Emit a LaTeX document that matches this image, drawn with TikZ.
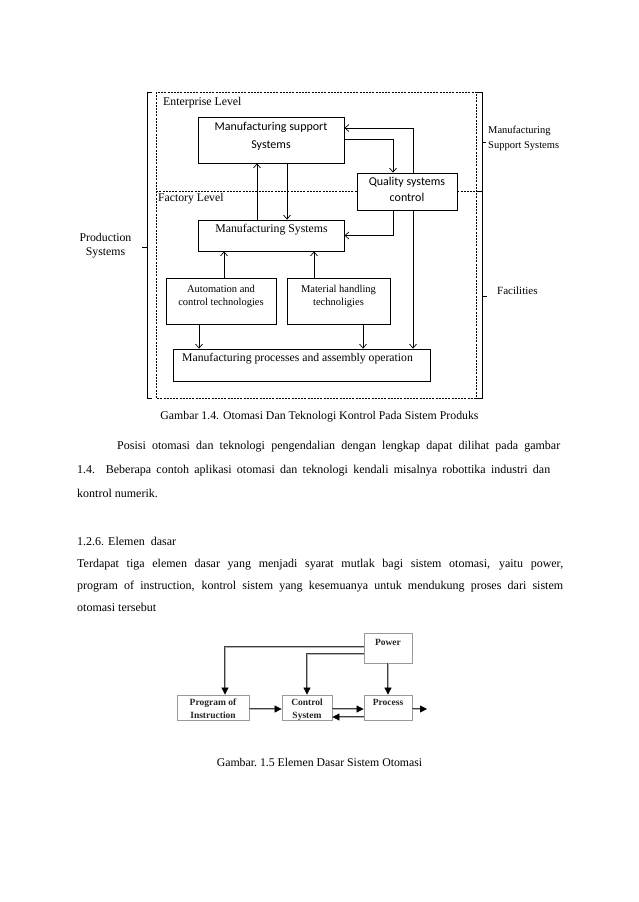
\documentclass[tikz,border=0pt]{standalone}
\usepackage{fontspec}
\setmainfont{Liberation Serif}
\newfontfamily\calibfont{Carlito}
\usetikzlibrary{arrows.meta}
\newcommand\fsz[1]{\fontsize{#1}{#1}\selectfont}
\begin{document}
\begin{tikzpicture}[x=1pt,y=-1pt,
  box/.style={draw, line width=0.8pt, inner sep=0pt},
  txt/.style={inner sep=0pt, anchor=mid},
  txtw/.style={inner sep=0pt, anchor=mid west},
  arr/.style={line width=0.7pt, -{Straight Barb[length=4pt,width=7pt]}},
  frame/.style={line width=0.6pt, dash pattern=on 2pt off 1.2pt},
  brack/.style={line width=0.8pt},
  gbox/.style={draw=black!40, line width=0.8pt, inner sep=0pt},
  gtxt/.style={inner sep=0pt, anchor=mid, text=black!85, font=\fsz{9.5}\bfseries},
  dbl/.style={draw=black!75, line width=0.75pt, double=black!30, double distance=1pt,
              -{Triangle[length=7pt,width=7pt,color=black]}}
]
\useasboundingbox[fill=white] (0,0) rectangle (638,902);

% ---------- upper diagram ----------
\node[box, minimum width=146pt, minimum height=46pt] (mss) at (271,140) {};
\node[box, minimum width=146pt, minimum height=31pt] (ms) at (271,235.5) {};
\node[box, minimum width=100pt, minimum height=37pt] (qsc) at (407,191.5) {};
\node[box, minimum width=110pt, minimum height=46pt] (act) at (221,301) {};
\node[box, minimum width=103pt, minimum height=46pt] (mht) at (338.5,301) {};
\node[box, minimum width=257pt, minimum height=32pt] (mpa) at (301.5,365) {};

% frame
\coordinate (fl) at (156,92);
\coordinate (fr) at (476,398);
\draw[frame] (fl) rectangle (fr);
\draw[frame] (qsc.west) -- (qsc.west -| fl);
\draw[frame] (qsc.east) -- (qsc.east -| fr);

% brackets
\draw[brack] (152,92) -- (147,92) -- (147,398) -- (152,398);
\draw[brack] (147,247) -- (142,247);
\draw[brack] (476,92) -- (482,92) -- (482,398) -- (476,398);
\draw[brack] (476,191) -- (482,191);
\draw[brack] (482,142) -- (486,142);
\draw[brack] (482,296) -- (487,296);

% texts upper
\node[txtw, font=\fsz{11.8}] (ent) at (163,103) {Enterprise Level};
\node[txtw, font=\fsz{11.7}] (fac) at (158,199) {Factory Level};
\node[txt, font=\calibfont\fsz{12}] (mss1) at (271,128) {Manufacturing support};
\node[txt, font=\calibfont\fsz{12}] (mss2) at (271,146) {Systems};
\node[txt, font=\calibfont\fsz{12}] (q1) at (407,183) {Quality systems};
\node[txt, font=\calibfont\fsz{12}] (q2) at (407,199) {control};
\node[txt, font=\fsz{11.8}] (ms1) at (271.5,230) {Manufacturing Systems};
\node[txt, font=\fsz{10.5}] (a1) at (221,290) {Automation and};
\node[txt, font=\fsz{10.5}] (a2) at (221,303) {control technologies};
\node[txt, font=\fsz{10.5}] (m1) at (338.5,290) {Material handling};
\node[txt, font=\fsz{10.5}] (m2) at (338.5,303) {technoligies};
\node[txt, font=\fsz{11.7}] (p1) at (297.5,359) {Manufacturing processes and assembly operation};
\node[txt, font=\fsz{11.8}] (ps1) at (105.5,239) {Production};
\node[txt, font=\fsz{11.8}] (ps2) at (105.5,253) {Systems};
\node[txtw, font=\fsz{10.5}] (r1) at (488,131) {Manufacturing};
\node[txtw, font=\fsz{10.5}] (r2) at (488,146) {Support Systems};
\node[txtw, font=\fsz{11}] (r3) at (497,292) {Facilities};

% arrows upper
\draw[arr] ([xshift=-14pt]ms.north) -- ([xshift=-14pt]mss.south);
\draw[arr] ([xshift=16pt]mss.south) -- ([xshift=16pt]ms.north);
\draw[arr] ([xshift=6pt]qsc.north) |- ([yshift=12pt]mss.east);
\draw[arr] ([yshift=1pt]mss.east) -| ([xshift=-14pt]qsc.north);
\draw[arr] ([xshift=-14pt]qsc.south) |- (ms.east);
\draw[arr] ([xshift=6pt]qsc.south) -- ([xshift=6pt]qsc.south |- mpa.north);
\draw[arr] ([xshift=3pt]act.north) -- ([xshift=3pt]act.north |- ms.south);
\draw[arr] ([xshift=-24.5pt]mht.north) -- ([xshift=-24.5pt]mht.north |- ms.south);
\draw[arr] ([xshift=-22pt]act.south) -- ([xshift=-22pt]act.south |- mpa.north);
\draw[arr] ([xshift=24.5pt]mht.south) -- ([xshift=24.5pt]mht.south |- mpa.north);

% caption 1
\node[txt, font=\fsz{11.8}] (cap1) at (319.5,417) {Gambar 1.4. Otomasi Dan Teknologi Kontrol Pada Sistem Produks};

% ---------- body text ----------
\node[txtw, font=\fsz{12}] (b1) at (117,447) {\makebox[443pt][s]{Posisi otomasi dan teknologi pengendalian dengan lengkap dapat dilihat pada gambar}};
\node[txtw, font=\fsz{12}] (b2) at (77,471) {\makebox[473pt][s]{1.4. Beberapa contoh aplikasi otomasi dan teknologi kendali misalnya robottika industri dan}};
\node[txtw, font=\fsz{12}] (b3) at (77,495) {kontrol numerik.};
\node[txtw, font=\fsz{12}] (b4) at (77,543) {1.2.6. Elemen\ \ dasar};
\node[txtw, font=\fsz{12}] (b5) at (77,565) {\makebox[486pt][s]{Terdapat tiga elemen dasar yang menjadi syarat mutlak bagi sistem otomasi, yaitu power,}};
\node[txtw, font=\fsz{12}] (b6) at (77,587) {\makebox[486pt][s]{program of instruction, kontrol sistem yang kesemuanya untuk mendukung proses dari sistem}};
\node[txtw, font=\fsz{12}] (b7) at (77,609) {otomasi tersebut};

% ---------- lower diagram ----------
\node[gbox, minimum width=48pt, minimum height=30pt] (power) at (388,648) {};
\node[gbox, minimum width=72pt, minimum height=25pt] (prog) at (213,707.5) {};
\node[gbox, minimum width=50pt, minimum height=25pt] (ctrl) at (307,707.5) {};
\node[gbox, minimum width=48pt, minimum height=25pt] (proc) at (388,707.5) {};
\coordinate (out) at (427,709);

\node[gtxt] (t1) at (388,643) {Power};
\node[gtxt] (t2) at (388,703) {Process};
\node[gtxt] (t3) at (213,703) {Program of};
\node[gtxt] (t4) at (213,716) {Instruction};
\node[gtxt] (t5) at (307,703) {Control};
\node[gtxt] (t6) at (307,716) {System};

\draw[dbl] ([yshift=1pt]power.west) -| ([xshift=12pt]prog.north);
\draw[dbl] ([yshift=-6pt]power.west) -| (ctrl.north);
\draw[dbl] (power.south) -- (proc.north);
\draw[dbl] ([yshift=-1.5pt]prog.east) -- ([yshift=-1.5pt]ctrl.west);
\draw[dbl] ([yshift=-1.5pt]ctrl.east) -- ([yshift=-1.5pt]proc.west);
\draw[dbl] ([yshift=-9.5pt]proc.west) -- ([yshift=-9.5pt]ctrl.east);
\draw[dbl] ([yshift=-1.5pt]proc.east) -- (out);

% caption 2
\node[txt, font=\fsz{11.8}] (cap2) at (319.5,764) {Gambar.\ 1.5 Elemen Dasar Sistem Otomasi};
\end{tikzpicture}
\end{document}
